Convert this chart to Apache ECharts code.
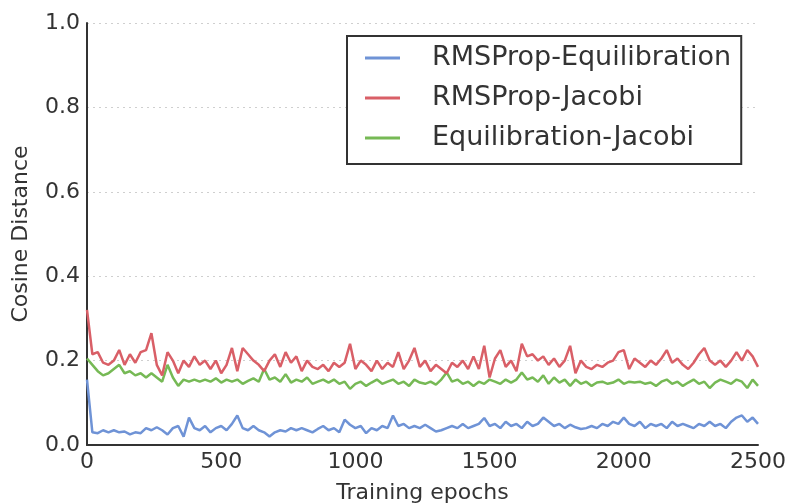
<!DOCTYPE html>
<html>
<head>
<meta charset="utf-8">
<script src="https://cdn.jsdelivr.net/npm/echarts@6/dist/echarts.min.js"></script>
<style>
  html, body { margin: 0; padding: 0; background: #fff; }
  #chart { width: 789px; height: 504px; }
</style>
</head>
<body>
<div id="chart"></div>
<script>
// epochs sampled every 20
const epochs = []
for (let e = 0; e <= 2500; e += 20) epochs.push(e)

const seriesNames = ['RMSProp-Equilibration', 'RMSProp-Jacobi', 'Equilibration-Jacobi']
const xTicks = [0, 500, 1000, 1500, 2000, 2500]
const yTicks = [0.0, 0.2, 0.4, 0.6, 0.8, 1.0]

const rmsEqui = [
  0.155, 0.03, 0.028, 0.035, 0.03, 0.035, 0.03, 0.032, 0.025, 0.03,
  0.028, 0.04, 0.035, 0.042, 0.035, 0.025, 0.04, 0.045, 0.02, 0.065,
  0.04, 0.035, 0.045, 0.03, 0.04, 0.045, 0.035, 0.05, 0.07, 0.04,
  0.035, 0.045, 0.035, 0.03, 0.02, 0.03, 0.035, 0.032, 0.04, 0.035,
  0.04, 0.035, 0.03, 0.038, 0.045, 0.035, 0.04, 0.03, 0.06, 0.048,
  0.04, 0.045, 0.028, 0.04, 0.035, 0.045, 0.04, 0.07, 0.045, 0.05,
  0.04, 0.045, 0.04, 0.048, 0.04, 0.032, 0.035, 0.04, 0.045, 0.04,
  0.05, 0.04, 0.045, 0.05, 0.064, 0.045, 0.05, 0.04, 0.055, 0.045,
  0.05, 0.04, 0.055, 0.045, 0.05, 0.065, 0.055, 0.045, 0.05, 0.04,
  0.048, 0.042, 0.038, 0.04, 0.045, 0.04, 0.05, 0.045, 0.055, 0.05,
  0.065, 0.05, 0.045, 0.055, 0.04, 0.05, 0.045, 0.05, 0.04, 0.055,
  0.045, 0.05, 0.045, 0.04, 0.05, 0.045, 0.055, 0.045, 0.05, 0.04,
  0.055, 0.065, 0.07, 0.055, 0.065, 0.05
]
const rmsJac = [
  0.32, 0.215, 0.22, 0.195, 0.19, 0.2, 0.225, 0.19, 0.215, 0.195,
  0.22, 0.225, 0.265, 0.19, 0.165, 0.22, 0.2, 0.17, 0.2, 0.185,
  0.21, 0.19, 0.2, 0.18, 0.2, 0.17, 0.19, 0.23, 0.175, 0.23,
  0.215, 0.2, 0.19, 0.175, 0.2, 0.215, 0.185, 0.22, 0.195, 0.21,
  0.175, 0.2, 0.185, 0.18, 0.19, 0.175, 0.195, 0.185, 0.195, 0.24,
  0.18, 0.2, 0.19, 0.175, 0.2, 0.18, 0.195, 0.185, 0.22, 0.18,
  0.2, 0.23, 0.185, 0.2, 0.175, 0.19, 0.18, 0.17, 0.195, 0.185,
  0.2, 0.18, 0.21, 0.18, 0.235, 0.16, 0.205, 0.225, 0.185, 0.2,
  0.175, 0.24, 0.21, 0.215, 0.2, 0.21, 0.19, 0.205, 0.185, 0.2,
  0.235, 0.17, 0.2, 0.185, 0.18, 0.19, 0.185, 0.195, 0.2, 0.22,
  0.225, 0.18, 0.205, 0.195, 0.185, 0.2, 0.19, 0.205, 0.225, 0.195,
  0.205, 0.19, 0.18, 0.195, 0.215, 0.23, 0.2, 0.19, 0.2, 0.185,
  0.2, 0.22, 0.2, 0.225, 0.21, 0.185
]
const equiJac = [
  0.205, 0.19, 0.175, 0.165, 0.17, 0.18, 0.19, 0.17, 0.175, 0.165,
  0.17, 0.16, 0.17, 0.16, 0.15, 0.19, 0.16, 0.14, 0.155, 0.15,
  0.155, 0.15, 0.155, 0.15, 0.158, 0.148, 0.155, 0.15, 0.155, 0.145,
  0.152, 0.158, 0.15, 0.18, 0.155, 0.16, 0.15, 0.168, 0.148, 0.155,
  0.15, 0.16, 0.145, 0.15, 0.155, 0.148, 0.155, 0.145, 0.15, 0.133,
  0.145, 0.15, 0.14, 0.148, 0.155, 0.145, 0.15, 0.155, 0.145, 0.15,
  0.14, 0.155, 0.148, 0.145, 0.15, 0.143, 0.155, 0.172, 0.15, 0.155,
  0.145, 0.15, 0.14, 0.15, 0.145, 0.155, 0.15, 0.145, 0.155, 0.148,
  0.155, 0.172, 0.155, 0.16, 0.15, 0.165, 0.145, 0.16, 0.148, 0.155,
  0.14, 0.155, 0.145, 0.15, 0.14, 0.148, 0.15, 0.145, 0.148, 0.155,
  0.145, 0.15, 0.148, 0.15, 0.145, 0.148, 0.14, 0.15, 0.155, 0.145,
  0.15, 0.14, 0.148, 0.155, 0.145, 0.15, 0.135, 0.148, 0.155, 0.15,
  0.145, 0.155, 0.15, 0.135, 0.155, 0.14
]

const colors = ['#6f93d6', '#d95f67', '#76b955']
const font = 'DejaVu Sans'
const textColor = '#333'

const pair = (vals) => vals.map((v, i) => [epochs[i], v])

const myChart = echarts.init(document.getElementById('chart'), null, { renderer: 'canvas' })
const option = {
  animation: false,
  backgroundColor: '#fff',
  color: colors,
  grid: {
    left: 87,
    right: 31,
    top: 23,
    bottom: 59,
    outerBoundsMode: 'none'
  },
  legend: {
    orient: 'vertical',
    left: 347,
    top: 36,
    padding: [7, 10, 11, 18],
    itemGap: 10,
    itemWidth: 35,
    itemHeight: 3,
    icon: 'rect',
    borderColor: '#333',
    borderWidth: 2,
    backgroundColor: '#fff',
    data: seriesNames,
    textStyle: {
      fontFamily: font,
      fontSize: 27,
      color: textColor,
      padding: [0, 0, 0, 27],
      lineHeight: 30
    }
  },
  xAxis: {
    type: 'value',
    min: xTicks[0],
    max: xTicks[xTicks.length - 1],
    interval: 500,
    name: 'Training epochs',
    nameLocation: 'middle',
    nameGap: 37,
    nameTextStyle: { fontFamily: font, fontSize: 22, color: textColor },
    axisLine: { show: true, lineStyle: { color: '#333', width: 2 } },
    axisTick: { show: false },
    axisLabel: {
      fontFamily: font,
      fontSize: 22,
      color: textColor,
      margin: 6,
      formatter: (v) => String(v)
    },
    splitLine: { show: false }
  },
  yAxis: {
    type: 'value',
    min: yTicks[0],
    max: yTicks[yTicks.length - 1],
    interval: 0.2,
    name: 'Cosine Distance',
    nameLocation: 'middle',
    nameGap: 55,
    nameTextStyle: { fontFamily: font, fontSize: 22, color: textColor },
    axisLine: { show: true, lineStyle: { color: '#333', width: 2 } },
    axisTick: { show: false },
    axisLabel: {
      fontFamily: font,
      fontSize: 22,
      color: textColor,
      margin: 7,
      formatter: (v) => v.toFixed(1)
    },
    splitLine: {
      show: true,
      lineStyle: { color: '#cfcfcf', type: [2, 4], width: 1 }
    }
  },
  series: [
    { name: seriesNames[0], data: pair(rmsEqui) },
    { name: seriesNames[1], data: pair(rmsJac) },
    { name: seriesNames[2], data: pair(equiJac) }
  ].map((s, i) => ({
    ...s,
    type: 'line',
    showSymbol: false,
    symbol: 'none',
    z: 3 - i,
    lineStyle: { width: 2.5, color: colors[i] }
  }))
}
myChart.setOption(option)
</script>
</body>
</html>
